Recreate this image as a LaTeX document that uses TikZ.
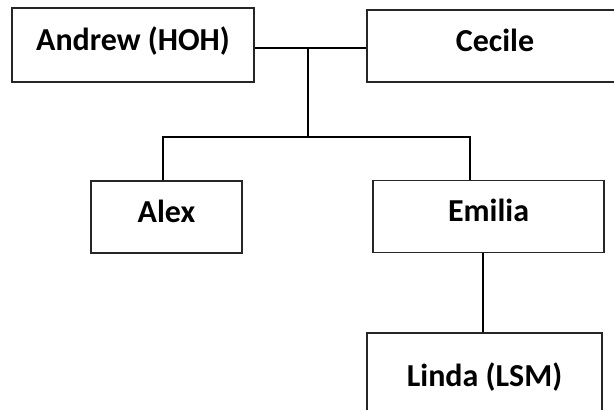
\documentclass[tikz,border=0pt]{standalone}
\usepackage{fontspec}
\setmainfont{Carlito}
\begin{document}
\begin{tikzpicture}[x=0.5pt,y=-0.5pt,
  person/.style={draw=black!85,line width=0.6pt,minimum height=36pt,inner sep=0pt,
    text height=10pt,text depth=5pt,font=\fontsize{16}{19}\selectfont\bfseries},
  link/.style={line width=1pt}]

\clip (0,0) rectangle (614,409);

% parents
\node[person,minimum width=121pt,minimum height=37pt] (andrew) at (133,45) {Andrew (HOH)};
\node[person,minimum width=128pt] (cecile) at (495,46) {Cecile};

% children
\node[person,minimum width=75.5pt] (alex) at (166.5,217) {Alex};
\node[person,minimum width=115.5pt] (emilia) at (488.5,216.5) {Emilia};

% grandchild
\node[person,minimum width=117.5pt,minimum height=48pt] (linda) at (484.5,381) {Linda (LSM)};

% marriage line and descent
\coordinate (couple) at (308,48);
\coordinate (kids) at (308,137);
\draw[link] (andrew.east |- couple) -- (couple) -- (cecile.west |- couple);
\draw[link] (couple) -- (kids);
\draw[link] ([xshift=-1.75pt]alex.north) |- (kids) -| ([xshift=-9.25pt]emilia.north);
\draw[link] ([xshift=-1pt]linda.north) -- ([xshift=-1pt]linda.north |- emilia.south);

\end{tikzpicture}
\end{document}
